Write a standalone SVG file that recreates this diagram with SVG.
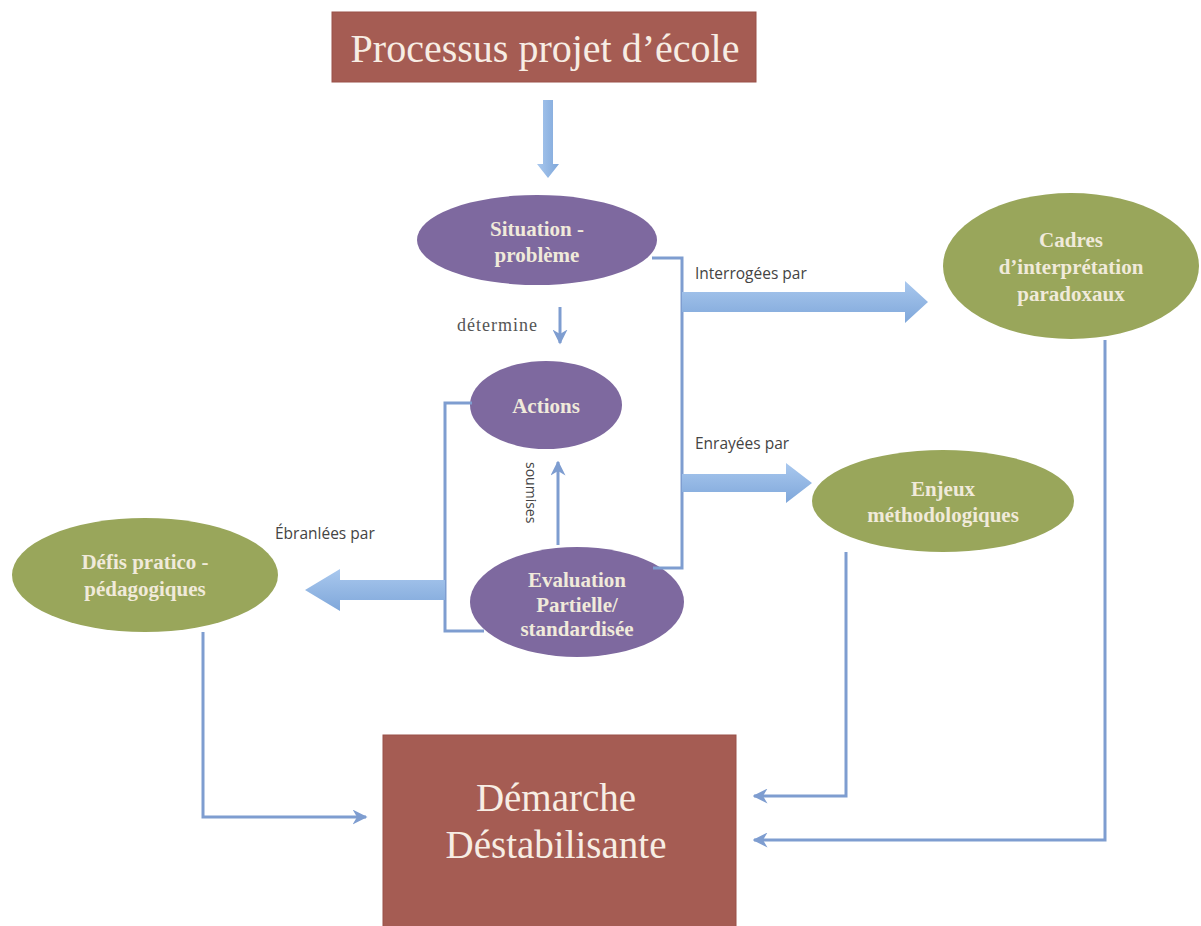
<svg xmlns="http://www.w3.org/2000/svg" width="1201" height="926" viewBox="0 0 1201 926">
<defs>
<linearGradient id="ga" x1="0" y1="0" x2="0" y2="1">
<stop offset="0" stop-color="#A9C8EE"/><stop offset="1" stop-color="#7FA7DA"/>
</linearGradient>
<linearGradient id="gv" x1="0" y1="0" x2="1" y2="0">
<stop offset="0" stop-color="#A9C8EE"/><stop offset="1" stop-color="#7FA7DA"/>
</linearGradient>
<marker id="ah" viewBox="0 0 10 10" refX="9" refY="5" markerWidth="5" markerHeight="5" orient="auto">
<path d="M0,0 L10,5 L0,10 L3,5 Z" fill="#7E9DD0"/>
</marker>
</defs>
<style>
.box{fill:#A55C53;stroke:#9A5048;stroke-width:1}
.pur{fill:#7E699F}
.grn{fill:#99A65B}
.nt{font-family:"Liberation Serif",serif;font-size:21px;fill:#F0EADA;text-anchor:middle;font-weight:bold}
.bt{font-family:"Liberation Serif",serif;fill:#F7EDE4;text-anchor:middle}
.lbl{font-family:"Open Sans","Liberation Sans",sans-serif;font-size:15.5px;fill:#444}
.ln{fill:none;stroke:#7E9DD0;stroke-width:3}
</style>
<rect width="1201" height="926" fill="#fff"/>
<g id="processus">
<rect class="box" x="332" y="12" width="424" height="70"/>
<text class="bt" x="545" y="62" font-size="40">Processus projet d’école</text>
</g>
<g id="situation">
<ellipse class="pur" cx="537" cy="240" rx="120" ry="45"/>
<text class="nt" x="537" y="236">Situation -</text>
<text class="nt" x="537" y="262">problème</text>
</g>
<g id="actions">
<ellipse class="pur" cx="546" cy="405" rx="76" ry="44"/>
<text class="nt" x="546" y="413">Actions</text>
</g>
<g id="evaluation">
<ellipse class="pur" cx="577" cy="602" rx="107" ry="55"/>
<text class="nt" x="577" y="587">Evaluation</text>
<text class="nt" x="577" y="612">Partielle/</text>
<text class="nt" x="577" y="636">standardisée</text>
</g>
<g id="cadres">
<ellipse class="grn" cx="1071" cy="266" rx="128" ry="73"/>
<text class="nt" x="1071" y="247">Cadres</text>
<text class="nt" x="1071" y="274">d’interprétation</text>
<text class="nt" x="1071" y="301">paradoxaux</text>
</g>
<g id="enjeux">
<ellipse class="grn" cx="943" cy="501" rx="131" ry="51"/>
<text class="nt" x="943" y="496">Enjeux</text>
<text class="nt" x="943" y="522">méthodologiques</text>
</g>
<g id="defis">
<ellipse class="grn" cx="145" cy="575" rx="133" ry="57"/>
<text class="nt" x="145" y="569">Défis pratico  -</text>
<text class="nt" x="145" y="596">pédagogiques</text>
</g>
<g id="demarche">
<rect class="box" x="383" y="735" width="353" height="195"/>
<text class="bt" x="556" y="811" font-size="39">Démarche</text>
<text class="bt" x="556" y="858" font-size="39">Déstabilisante</text>
</g>
<g id="connectors">
<path d="M543,100 H553 V164 H559 L548,178 L537,164 H543 Z" fill="url(#gv)"/>
<path d="M652,258 H682 V568 H653" class="ln"/>
<path d="M472,403 H445 V631 H484" class="ln"/>
<path d="M682,292 H905 V281 L928,302 L905,323 V312 H682 Z" fill="url(#ga)"/>
<path d="M682,474 H786 V463 L812,483 L786,503 V492 H682 Z" fill="url(#ga)"/>
<path d="M445,580 H340 V569 L305,590 L340,611 V600 H445 Z" fill="url(#ga)"/>
<path d="M560,307 V343" class="ln" marker-end="url(#ah)"/>
<path d="M558,545 V462" class="ln" marker-end="url(#ah)"/>
<path d="M203,632 V817 H366" class="ln" marker-end="url(#ah)"/>
<path d="M846,552 V796 H754" class="ln" marker-end="url(#ah)"/>
<path d="M1105,340 V840 H754" class="ln" marker-end="url(#ah)"/>
<text class="lbl" x="695" y="279">Interrogées par</text>
<text class="lbl" x="695" y="449">Enrayées par</text>
<text class="lbl" x="275" y="539">Ébranlées par</text>
<text x="457" y="331" font-family="Liberation Serif,serif" font-size="18" letter-spacing="1" fill="#555">détermine</text>
<text transform="translate(526,462) rotate(90)" font-family="Open Sans,Liberation Sans,sans-serif" font-size="14" fill="#444">soumises</text>
</g>
</svg>
